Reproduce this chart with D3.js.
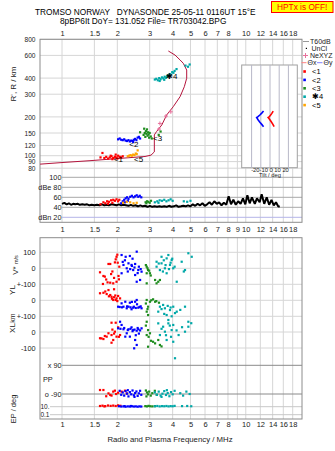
<!DOCTYPE html>
<html><head><meta charset="utf-8">
<script src="https://cdn.jsdelivr.net/npm/d3@7"></script>
<style>body{margin:0;background:#fff}svg{display:block}text{font-family:"Liberation Sans",Arial,sans-serif}</style>
</head><body><svg id="c" width="335" height="451"></svg>
<script>
// ---------- DATA ----------
const topTicks = [1,1.5,2,3,4,5,6,7,8,10,12,14,16,18];
const midTicks = [1,1.5,2,3,4,5,6,7,8,9,10,12,14,16,18];
const gridFreqs = [1,1.5,2,3,4,5,6,7,8,9,10,12,14,16,18];
const heightTicks = [80,90,100,120,150,200,300,400,600,800];
const dbTicks = [100,80,60,40];
const dbLabels = ["100","dBe 80","60","40"];

// true-height profile [MHz, km]
const profile = [[0.76,86],[1.0,88.5],[1.42,91.5],[2.0,95],[2.83,98.6],[3.05,101],[3.18,107],[3.18,145],[3.27,154],[3.49,173],[3.71,207],[4.03,240],[4.39,287],[4.63,343],[4.77,399],[4.77,462],[4.57,521],[4.39,553],[4.12,604],[3.79,649]];
const nexyz = [[3.37,161],[3.41,178],[3.68,203],[3.91,219]];

// echoes [MHz, km]
const echo1 = [[1.62,97],[1.66,105],[1.70,96],[1.74,98],[1.78,95],[1.82,97],[1.86,99],[1.90,96],[1.94,98],[1.98,97],[2.02,100],[2.06,98],[2.10,97],[2.14,99],[1.88,94],[1.96,102],[2.00,95],[1.84,100]];
const echo2 = [[2.02,134],[2.06,136],[2.10,133],[2.14,132],[2.18,134],[2.22,131],[2.26,130],[2.30,132],[2.34,129],[2.38,131],[2.42,130],[2.46,133],[2.50,135],[2.54,132],[2.58,138],[2.62,140],[2.66,136],[2.44,128]];
const echo3 = [[2.78,145],[2.82,150],[2.84,140],[2.86,155],[2.88,148],[2.90,160],[2.92,143],[2.94,152],[2.96,146],[2.98,138],[3.00,150],[3.04,141],[3.08,136],[2.66,152],[3.44,154],[3.36,145],[2.80,162]];
const echo4 = [[3.20,390],[3.26,395],[3.32,385],[3.38,400],[3.44,392],[3.50,405],[3.56,398],[3.62,410],[3.68,402],[3.74,415],[3.80,420],[3.86,430],[3.92,425],[3.98,445],[4.04,440],[4.10,455],[3.40,380],[3.60,388],[4.70,500],[4.85,490],[4.95,510],[4.20,470]];
const echo5 = [[2.28,99],[2.32,100],[2.36,101],[2.40,100],[2.44,102],[2.48,101],[2.52,104],[2.58,110],[2.55,103]];
const echoLabels = [["<1",2.03,94],["<2",2.46,122],["<3",3.31,136],["\u27314",3.96,411],["<5",2.61,94]];

// tilt inset [deg, km]
const thetaX = [[3.5,222],[2,213],[0.5,206],[-1,200],[-2,198],[-0.5,192],[1,185],[3,176],[4.5,168]];
const thetaY = [[-7,222],[-9,214],[-11,207],[-13,201],[-14.5,198],[-13,190],[-11,182],[-9,175],[-7,168]];
const tiltTicks = [-20,-10,0,10,20];

// noise T60dB [MHz, dB]
const noise = [[1.00,47],[1.03,49],[1.06,46],[1.09,48],[1.12,45],[1.15,47],[1.18,46],[1.22,47],[1.25,45],[1.29,46],[1.33,45],[1.37,46],[1.41,44],[1.45,45],[1.50,44],[1.55,45],[1.60,44],[1.65,46],[1.70,44],[1.75,45],[1.80,44],[1.86,46],[1.92,45],[1.98,44],[2.04,46],[2.10,44],[2.16,45],[2.23,44],[2.30,43],[2.37,45],[2.44,43],[2.51,44],[2.59,42],[2.67,44],[2.75,42],[2.83,43],[2.92,41],[3.01,43],[3.10,41],[3.19,42],[3.29,41],[3.39,42],[3.49,41],[3.60,42],[3.71,41],[3.82,43],[3.94,41],[4.06,42],[4.18,44],[4.31,41],[4.44,42],[4.57,43],[4.71,42],[4.85,44],[5.00,42],[5.15,46],[5.31,43],[5.47,47],[5.64,44],[5.81,48],[5.98,43],[6.16,46],[6.35,50],[6.54,45],[6.74,52],[6.95,47],[7.16,50],[7.38,44],[7.60,49],[7.83,45],[8.07,62],[8.31,46],[8.56,55],[8.82,45],[9.09,52],[9.37,47],[9.65,58],[9.94,46],[10.2,64],[10.5,48],[10.8,60],[11.2,47],[11.5,58],[11.9,50],[12.2,66],[12.6,47],[13.0,60],[13.4,45],[13.8,55],[14.2,44],[14.6,50],[15.0,42],[15.3,41]];
// echo amplitudes [MHz, dB]
const db1 = [[1.62,46],[1.68,50],[1.72,48],[1.76,52],[1.80,51],[1.85,54],[1.90,55],[1.94,53],[1.98,56],[2.02,52],[1.88,49],[1.78,47],[2.05,55]];
const db2 = [[2.10,48],[2.14,52],[2.18,55],[2.22,58],[2.26,60],[2.30,57],[2.35,61],[2.40,63],[2.45,60],[2.50,62],[2.55,64],[2.60,61],[2.65,63],[2.70,60],[2.20,50],[2.28,53]];
const db5 = [[2.15,49],[2.25,51],[2.35,50],[2.45,48],[2.55,49]];
const db3 = [[2.85,50],[2.90,52],[2.95,51],[3.00,49],[3.05,53],[2.88,48]];
const db4 = [[3.20,50],[3.30,52],[3.40,54],[3.50,53],[3.60,55],[3.70,52],[3.80,54],[3.90,56],[4.00,53],[3.35,49],[4.60,52],[4.80,51],[5.00,53]];

// V* (m/s), YL and XL (km)  [MHz, value]
const v1 = [[1.79,27],[1.96,56],[2.01,35],[1.61,-25],[1.71,-52],[1.85,-36],[1.83,-90],[1.90,-94],[2.03,-48],[1.98,-84],[1.77,-88],[1.98,72],[1.68,-48],[1.67,-98],[2.04,-69],[1.94,37],[1.83,27],[1.88,-20],[1.74,-70],[2.05,10],[1.92,-60],[2.00,85]];
const v2 = [[2.11,83],[2.22,72],[2.34,77],[2.55,104],[2.16,21],[2.30,31],[2.39,21],[2.50,27],[2.44,-11],[2.60,-11],[2.71,-21],[2.25,0],[2.11,-31],[2.50,-42],[2.55,-84],[2.66,-73],[2.20,50],[2.42,60],[2.62,10],[2.35,-5],[2.48,5],[2.28,-20],[2.58,-30],[2.68,-5],[2.14,40],[2.40,15]];
const v3 = [[2.89,10],[2.94,-11],[3.01,-31],[2.89,-31],[3.21,-73],[3.34,-84],[2.89,-94],[3.27,-94],[3.41,-73],[2.86,20],[2.92,0],[2.98,-15],[3.04,-45]];
const v4 = [[3.27,41],[3.48,31],[3.71,62],[3.95,52],[3.87,21],[3.63,0],[3.41,-11],[3.27,10],[4.03,0],[4.48,41],[4.87,94],[5.08,72],[4.21,-84],[3.71,-31],[4.67,-11],[3.48,72],[3.79,83],[3.58,50],[3.90,35],[3.66,20],[4.10,10],[3.82,-5],[3.54,-20],[4.60,-20],[3.98,60],[3.36,30]];
const yl1 = [[1.61,44],[1.68,47],[1.75,39],[1.83,33],[1.86,22],[1.92,19],[1.98,12],[2.02,27],[1.90,2],[1.96,2],[2.07,12],[1.79,64],[1.92,69],[1.87,10],[1.95,30],[1.72,55],[2.00,-5],[1.80,25]];
const yl2 = [[2.02,-40],[2.16,-40],[2.30,-40],[2.44,-46],[2.60,-46],[2.71,-50],[2.21,-9],[2.34,-15],[2.50,-9],[2.55,2],[2.11,-19],[2.39,-56],[2.25,-50],[2.06,-42],[2.12,-44],[2.26,-38],[2.36,-44],[2.46,-40],[2.52,-48],[2.64,-42],[2.40,-10],[2.56,-25],[2.68,-38]];
const yl3 = [[2.89,2],[3.01,-9],[3.21,-9],[3.37,-15],[2.94,-40],[2.89,-71],[2.94,-92],[3.13,6],[2.86,-20],[3.06,0],[3.26,-5],[2.92,-55]];
const yl4 = [[3.41,-40],[3.63,-50],[3.87,-61],[4.03,-40],[3.34,-71],[3.71,-92],[3.95,-100],[3.55,-29],[4.21,-71],[4.67,-40],[3.48,-55],[3.76,-35],[4.12,-80],[3.90,-45],[3.60,-85],[4.40,-60]];
const xl1 = [[1.86,58],[1.96,58],[2.02,29],[1.94,2],[1.86,-19],[1.75,-29],[1.61,-39],[1.68,-44],[1.98,-29],[2.07,-19],[1.90,-50],[1.86,-67],[1.79,-8],[1.64,-40],[1.92,-10],[2.04,-30],[1.88,15],[1.71,-25]];
const xl2 = [[2.02,23],[2.16,17],[2.30,17],[2.44,12],[2.60,17],[2.71,23],[2.11,44],[2.39,29],[2.55,8],[2.07,64],[2.25,-8],[2.34,-29],[2.50,-50],[2.55,-81],[2.47,-102],[2.21,-29],[2.08,20],[2.18,25],[2.28,12],[2.36,20],[2.48,15],[2.58,25],[2.66,10],[2.42,5],[2.52,-20],[2.62,-10]];
const xl3 = [[2.89,64],[2.94,12],[3.01,-8],[2.89,-19],[3.13,-61],[3.21,-71],[3.41,-81],[2.94,-92],[3.34,-50],[2.86,40],[2.96,-30],[3.05,-55],[3.48,-90]];
const xl4 = [[3.34,54],[3.55,33],[3.79,54],[4.03,44],[3.63,2],[3.41,-19],[3.95,12],[4.31,-19],[3.71,-50],[4.67,2],[4.87,33],[4.03,-61],[4.12,-164],[4.87,64],[3.79,75],[3.48,20],[3.86,40],[4.20,10],[3.68,-20],[3.92,-30],[4.50,30],[5.05,55]];
// PP (deg) and EP (deg)
const pp1 = [[1.61,-65],[1.68,-65],[1.79,-86],[1.83,-96],[1.90,-75],[1.94,-69],[2.02,-82],[2.11,-75],[2.20,-69],[2.25,-86],[1.86,-100],[1.97,-90],[1.74,-104]];
const pp2 = [[2.06,-70],[2.10,-95],[2.14,-80],[2.18,-100],[2.22,-72],[2.26,-88],[2.30,-105],[2.34,-78],[2.38,-92],[2.42,-68],[2.46,-98],[2.50,-84],[2.54,-74],[2.58,-102],[2.62,-86],[2.66,-70],[2.70,-95],[2.28,-66],[2.48,-108]];
const pp3 = [[2.86,-68],[2.90,-80],[2.94,-92],[2.98,-75],[3.04,-100],[3.10,-85],[3.20,-70],[3.28,-95],[2.88,-105]];
const pp4 = [[3.20,-80],[3.28,-95],[3.36,-75],[3.44,-100],[3.52,-88],[3.60,-72],[3.68,-96],[3.76,-84],[3.84,-104],[3.92,-78],[4.00,-92],[4.10,-70],[4.40,-85],[4.56,-100],[4.75,-75],[4.95,-90],[3.48,-108],[3.72,-66]];
const ep1 = [[1.61,15],[1.66,18],[1.72,14],[1.78,20],[1.84,16],[1.90,19],[1.96,15],[2.02,22],[2.08,17],[1.70,12]];
const ep2 = [[2.04,13],[2.10,11],[2.16,12],[2.22,10],[2.28,12],[2.34,11],[2.40,13],[2.46,11],[2.52,12],[2.58,10],[2.64,12],[2.70,11],[2.19,14],[2.37,15]];
const ep3 = [[2.84,14],[2.90,12],[2.96,16],[3.02,13],[3.10,12],[3.20,14]];
const ep4 = [[3.20,13],[3.30,15],[3.40,12],[3.50,14],[3.60,13],[3.70,15],[3.80,12],[3.90,14],[4.00,13],[4.10,16],[4.50,14],[4.80,15],[5.05,13]];

const C = {r:"#ff0000", b:"#0000ff", g:"#1e8c1e", c:"#00a8a8", o:"#ffa500"};

// ---------- SCALES ----------
const svg = d3.select("#c");
const x = d3.scaleLog().domain([1,18]).range([62,292.7]);
const yH = d3.scaleLog().domain([80,800]).range([168.2,39.3]);
const yDb = d3.scaleLinear().domain([20,100]).range([217.3,177.3]);
const yV = d3.scaleLinear().domain([-100,100]).range([284.3,252.3]);
const yYL = d3.scaleLinear().domain([-100,100]).range([316.3,284.3]);
const yXL = d3.scaleLinear().domain([-100,100]).range([348,316]);
const yPP = d3.scaleLinear().domain([-90,90]).range([394,365.3]);
const yEP = d3.scaleLog().domain([0.1,10]).range([414.7,406.7]);
const xT = d3.scaleLinear().domain([-30,30]).range([242.4,297.6]);

const F = {l:40, r:302, t1:39.3, b1:222.3, t2:237.7, b2:419};
const grid = "#d6d6d6", ink = "#222";

// ---------- HEADER ----------
const mono = "'DejaVu Sans Mono', monospace";
svg.append("text").attr("x",35).attr("y",15).attr("font-family",mono).attr("font-size",8.3).attr("fill","#000").attr("xml:space","preserve").text("TROMSO NORWAY   DYNASONDE 25-05-11 0116UT 15\u00B0E");
svg.append("text").attr("x",60).attr("y",23.5).attr("font-family",mono).attr("font-size",8.3).attr("fill","#000").text("8pBP6It DoY= 131.052 File= TR703042.BPG");
svg.append("rect").attr("x",271.5).attr("y",1.5).attr("width",61.5).attr("height",11).attr("fill","#ffff00").attr("stroke","#ff0000");
svg.append("text").attr("x",302.2).attr("y",10.3).attr("text-anchor","middle").attr("font-family",mono).attr("font-size",8.3).attr("fill","#ff0000").text("HPTx is OFF!");

// ---------- GRIDS ----------
const g = svg.append("g");
[[F.t1,F.b1],[F.t2,F.b2]].forEach(([a,b])=>{
  g.selectAll(null).data(gridFreqs).enter().append("line")
    .attr("x1",d=>x(d)).attr("x2",d=>x(d)).attr("y1",a).attr("y2",b)
    .attr("stroke",grid).attr("stroke-width",1);
});
g.selectAll(null).data(heightTicks).enter().append("line")
  .attr("x1",F.l).attr("x2",F.r).attr("y1",d=>yH(d)).attr("y2",d=>yH(d)).attr("stroke",grid);
g.selectAll(null).data(dbTicks).enter().append("line")
  .attr("x1",x(1)).attr("x2",F.r).attr("y1",d=>yDb(d)).attr("y2",d=>yDb(d)).attr("stroke","#a8a8a8");
g.append("line").attr("x1",x(1)).attr("x2",F.r).attr("y1",yDb(20)).attr("y2",yDb(20)).attr("stroke","#b4b4e8");

const lowLines = [[yV,100,"100"],[yV,0,"0"],[yV,-100,"+-100"],[yYL,0,"0"],[yYL,-100,"+-100"],[yXL,0,"0"],[yXL,-100,"-100"]];
lowLines.forEach(([s,v,l])=>{
  g.append("line").attr("x1",F.l).attr("x2",F.r).attr("y1",s(v)).attr("y2",s(v)).attr("stroke",grid);
  g.append("text").attr("x",35.5).attr("y",s(v)).attr("dy","0.35em").attr("text-anchor","end").attr("font-size",7.3).attr("fill",ink).text(l);
});
[[90,"x 90"],[-90,"o -90"]].forEach(([v,l])=>{
  g.append("line").attr("x1",x(1)).attr("x2",F.r).attr("y1",yPP(v)).attr("y2",yPP(v)).attr("stroke","#8a8a8a");
  g.append("text").attr("x",61.5).attr("y",yPP(v)).attr("dy","0.35em").attr("text-anchor","end").attr("font-size",7.3).attr("fill",ink).text(l);
});
[[10,"10."],[0.1,"0.1"]].forEach(([v,l])=>{
  g.append("line").attr("x1",50).attr("x2",F.r).attr("y1",yEP(v)).attr("y2",yEP(v)).attr("stroke","#c8c8c8");
  g.append("text").attr("x",49.5).attr("y",yEP(v)).attr("dy","0.35em").attr("text-anchor","end").attr("font-size",6.5).attr("fill",ink).text(l);
});
g.append("text").attr("x",43).attr("y",382).attr("font-size",7.3).attr("fill",ink).text("PP");

// frames
svg.append("rect").attr("x",F.l).attr("y",F.t1).attr("width",F.r-F.l).attr("height",F.b1-F.t1).attr("fill","none").attr("stroke","#8c8c8c");
svg.append("rect").attr("x",F.l).attr("y",F.t2).attr("width",F.r-F.l).attr("height",F.b2-F.t2).attr("fill","none").attr("stroke","#8c8c8c");

// ---------- AXES ----------
function styleAxis(sel, fs){ sel.select(".domain").remove(); sel.selectAll("text").attr("font-size",fs||7.5).attr("fill",ink).attr("font-family","'Liberation Sans',Arial,sans-serif"); }
svg.append("g").attr("transform",`translate(0,${F.t1})`).call(d3.axisTop(x).tickValues(topTicks).tickFormat(d=>String(d)).tickSize(0).tickPadding(3.8)).call(styleAxis);
svg.append("g").attr("transform",`translate(0,${F.b1})`).call(d3.axisBottom(x).tickValues(midTicks).tickFormat(d=>String(d)).tickSize(0).tickPadding(4.5)).call(styleAxis);
svg.append("g").attr("transform",`translate(0,${F.b2})`).call(d3.axisBottom(x).tickValues(topTicks).tickFormat(d=>String(d)).tickSize(0).tickPadding(2.5)).call(styleAxis);
svg.append("g").attr("transform",`translate(${F.l},0)`).call(d3.axisLeft(yH).tickValues(heightTicks).tickFormat(d3.format("d")).tickSize(0).tickPadding(4.5)).call(s=>styleAxis(s,6.6));
dbTicks.forEach((d,i)=>{
  svg.append("text").attr("x",61.5).attr("y",yDb(d)).attr("dy","0.35em").attr("text-anchor","end").attr("font-size",7.3).attr("fill",ink).text(dbLabels[i]);
});
svg.append("text").attr("x",61.5).attr("y",yDb(20)).attr("dy","0.35em").attr("text-anchor","end").attr("font-size",7.3).attr("fill",ink).text("dBn 20");

// axis titles
function vtitle(cx,cy,txt,size){ svg.append("text").attr("transform",`translate(${cx},${cy}) rotate(-90)`).attr("text-anchor","middle").attr("dy","0.35em").attr("font-size",size).attr("fill",ink).text(txt); }
vtitle(13,84,"R', R / km",8);
const vs = svg.append("text").attr("transform","translate(12,265) rotate(-90)").attr("text-anchor","middle").attr("dy","0.35em").attr("fill",ink);
vs.append("tspan").attr("font-size",8).text("V* ");
vs.append("tspan").attr("font-size",5.5).text("m/s");
vtitle(12,290,"YL",8);
vtitle(12.5,318,"km",7);
vtitle(12,328,"XL",8);
vtitle(13,409,"EP / deg",7.5);
svg.append("text").attr("x",170).attr("y",441.5).attr("text-anchor","middle").attr("font-size",7.8).attr("fill",ink).text("Radio and Plasma Frequency / MHz");

// ---------- TILT INSET ----------
svg.append("rect").attr("x",241.7).attr("y",65).attr("width",55.6).attr("height",102.7).attr("fill","#fff").attr("stroke","#a0a0a0");
svg.selectAll(null).data(tiltTicks).enter().append("line").attr("x1",d=>xT(d)).attr("x2",d=>xT(d)).attr("y1",65).attr("y2",167.7).attr("stroke","#b8b8c8");
svg.append("text").attr("x",xT(0)).attr("y",172.3).attr("text-anchor","middle").attr("font-size",5.8).attr("fill",ink).text("-20-10  0  10  20");
svg.append("text").attr("x",xT(0)).attr("y",177.2).attr("text-anchor","middle").attr("font-size",5.8).attr("fill",ink).text("Tilt / deg");
const tl = d3.line().x(d=>xT(d[0])).y(d=>yH(d[1]));
svg.append("path").attr("d",tl(thetaY)).attr("fill","none").attr("stroke","#0000ff").attr("stroke-width",1.6);
svg.append("path").attr("d",tl(thetaX)).attr("fill","none").attr("stroke","#ff0000").attr("stroke-width",1.6);

// ---------- TOP PANEL DATA ----------
function dots(data, sy, col){
  svg.append("g").selectAll("rect").data(data).enter().append("rect")
    .attr("x",d=>x(d[0])-1.1).attr("y",d=>sy(d[1])-1.1).attr("width",2.2).attr("height",2.2).attr("fill",col);
}
svg.append("path").attr("d",d3.line().x(d=>x(d[0])).y(d=>yH(d[1]))(profile)).attr("fill","none").attr("stroke","#b4143c").attr("stroke-width",1);
svg.append("g").selectAll("path").data(nexyz).enter().append("path")
  .attr("d",d=>`M${x(d[0])-2},${yH(d[1])}h4M${x(d[0])},${yH(d[1])-2}v4`).attr("stroke","#e8709c").attr("stroke-width",1);
dots(echo1,yH,C.r); dots(echo5,yH,C.o); dots(echo2,yH,C.b); dots(echo3,yH,C.g); dots(echo4,yH,C.c);
svg.append("g").selectAll("text").data(echoLabels).enter().append("text")
  .attr("x",d=>x(d[1])).attr("y",d=>yH(d[2])).attr("dy","0.35em").attr("text-anchor","middle")
  .attr("font-family","'DejaVu Sans',sans-serif").attr("font-size",8).attr("fill","#000").text(d=>d[0]);

// dB panel
svg.append("path").attr("d",d3.line().x(d=>x(d[0])).y(d=>yDb(d[1]))(noise)).attr("fill","none").attr("stroke","#000").attr("stroke-width",2).attr("stroke-linejoin","bevel");
dots(db1,yDb,C.r); dots(db2,yDb,C.b); dots(db5,yDb,C.o); dots(db3,yDb,C.g); dots(db4,yDb,C.c);

// ---------- LOWER PANEL DATA ----------
dots(v1,yV,C.r); dots(v2,yV,C.b); dots(v3,yV,C.g); dots(v4,yV,C.c);
dots(yl1,yYL,C.r); dots(yl2,yYL,C.b); dots(yl3,yYL,C.g); dots(yl4,yYL,C.c);
dots(xl1,yXL,C.r); dots(xl2,yXL,C.b); dots(xl3,yXL,C.g); dots(xl4,yXL,C.c);
dots(pp1,yPP,C.r); dots(pp2,yPP,C.b); dots(pp3,yPP,C.g); dots(pp4,yPP,C.c);
dots(ep1,yEP,C.r); dots(ep2,yEP,C.b); dots(ep3,yEP,C.g); dots(ep4,yEP,C.c);

// ---------- LEGEND ----------
const lg = svg.append("g").attr("font-size",7).attr("fill",ink);
lg.append("line").attr("x1",303).attr("x2",309).attr("y1",41.5).attr("y2",41.5).attr("stroke","#999");
lg.append("text").attr("x",310).attr("y",41.5).attr("dy","0.35em").text("T60dB");
lg.append("rect").attr("x",305.8).attr("y",47.8).attr("width",1.2).attr("height",1.2).attr("fill","#000");
lg.append("text").attr("x",311.5).attr("y",48.5).attr("dy","0.35em").text("UnCl");
lg.append("path").attr("d","M303,55.5h5M305.5,53v5").attr("stroke","#e8709c");
lg.append("text").attr("x",310).attr("y",55.5).attr("dy","0.35em").text("NeXYZ");
lg.append("line").attr("x1",301.5).attr("x2",306.5).attr("y1",62.7).attr("y2",62.7).attr("stroke","#ff8080");
lg.append("text").attr("x",307.5).attr("y",62.7).attr("dy","0.35em").text("\u0398x");
lg.append("line").attr("x1",317).attr("x2",322.5).attr("y1",62.7).attr("y2",62.7).attr("stroke","#8080ff");
lg.append("text").attr("x",323.5).attr("y",62.7).attr("dy","0.35em").text("\u0398y");
const legItems = [["<1",C.r],["<2",C.b],["<3",C.g],["\u27314",C.c],["<5",C.o]];
legItems.forEach(([t,c],i)=>{
  const yy = 71.5 + i*8.4;
  lg.append("rect").attr("x",303.3).attr("y",yy-1.3).attr("width",2.6).attr("height",2.6).attr("fill",c);
  lg.append("text").attr("x",312).attr("y",yy).attr("dy","0.35em").attr("font-family","'DejaVu Sans',sans-serif").attr("font-size",7.5).attr("fill","#000").text(t);
});
</script></body></html>
